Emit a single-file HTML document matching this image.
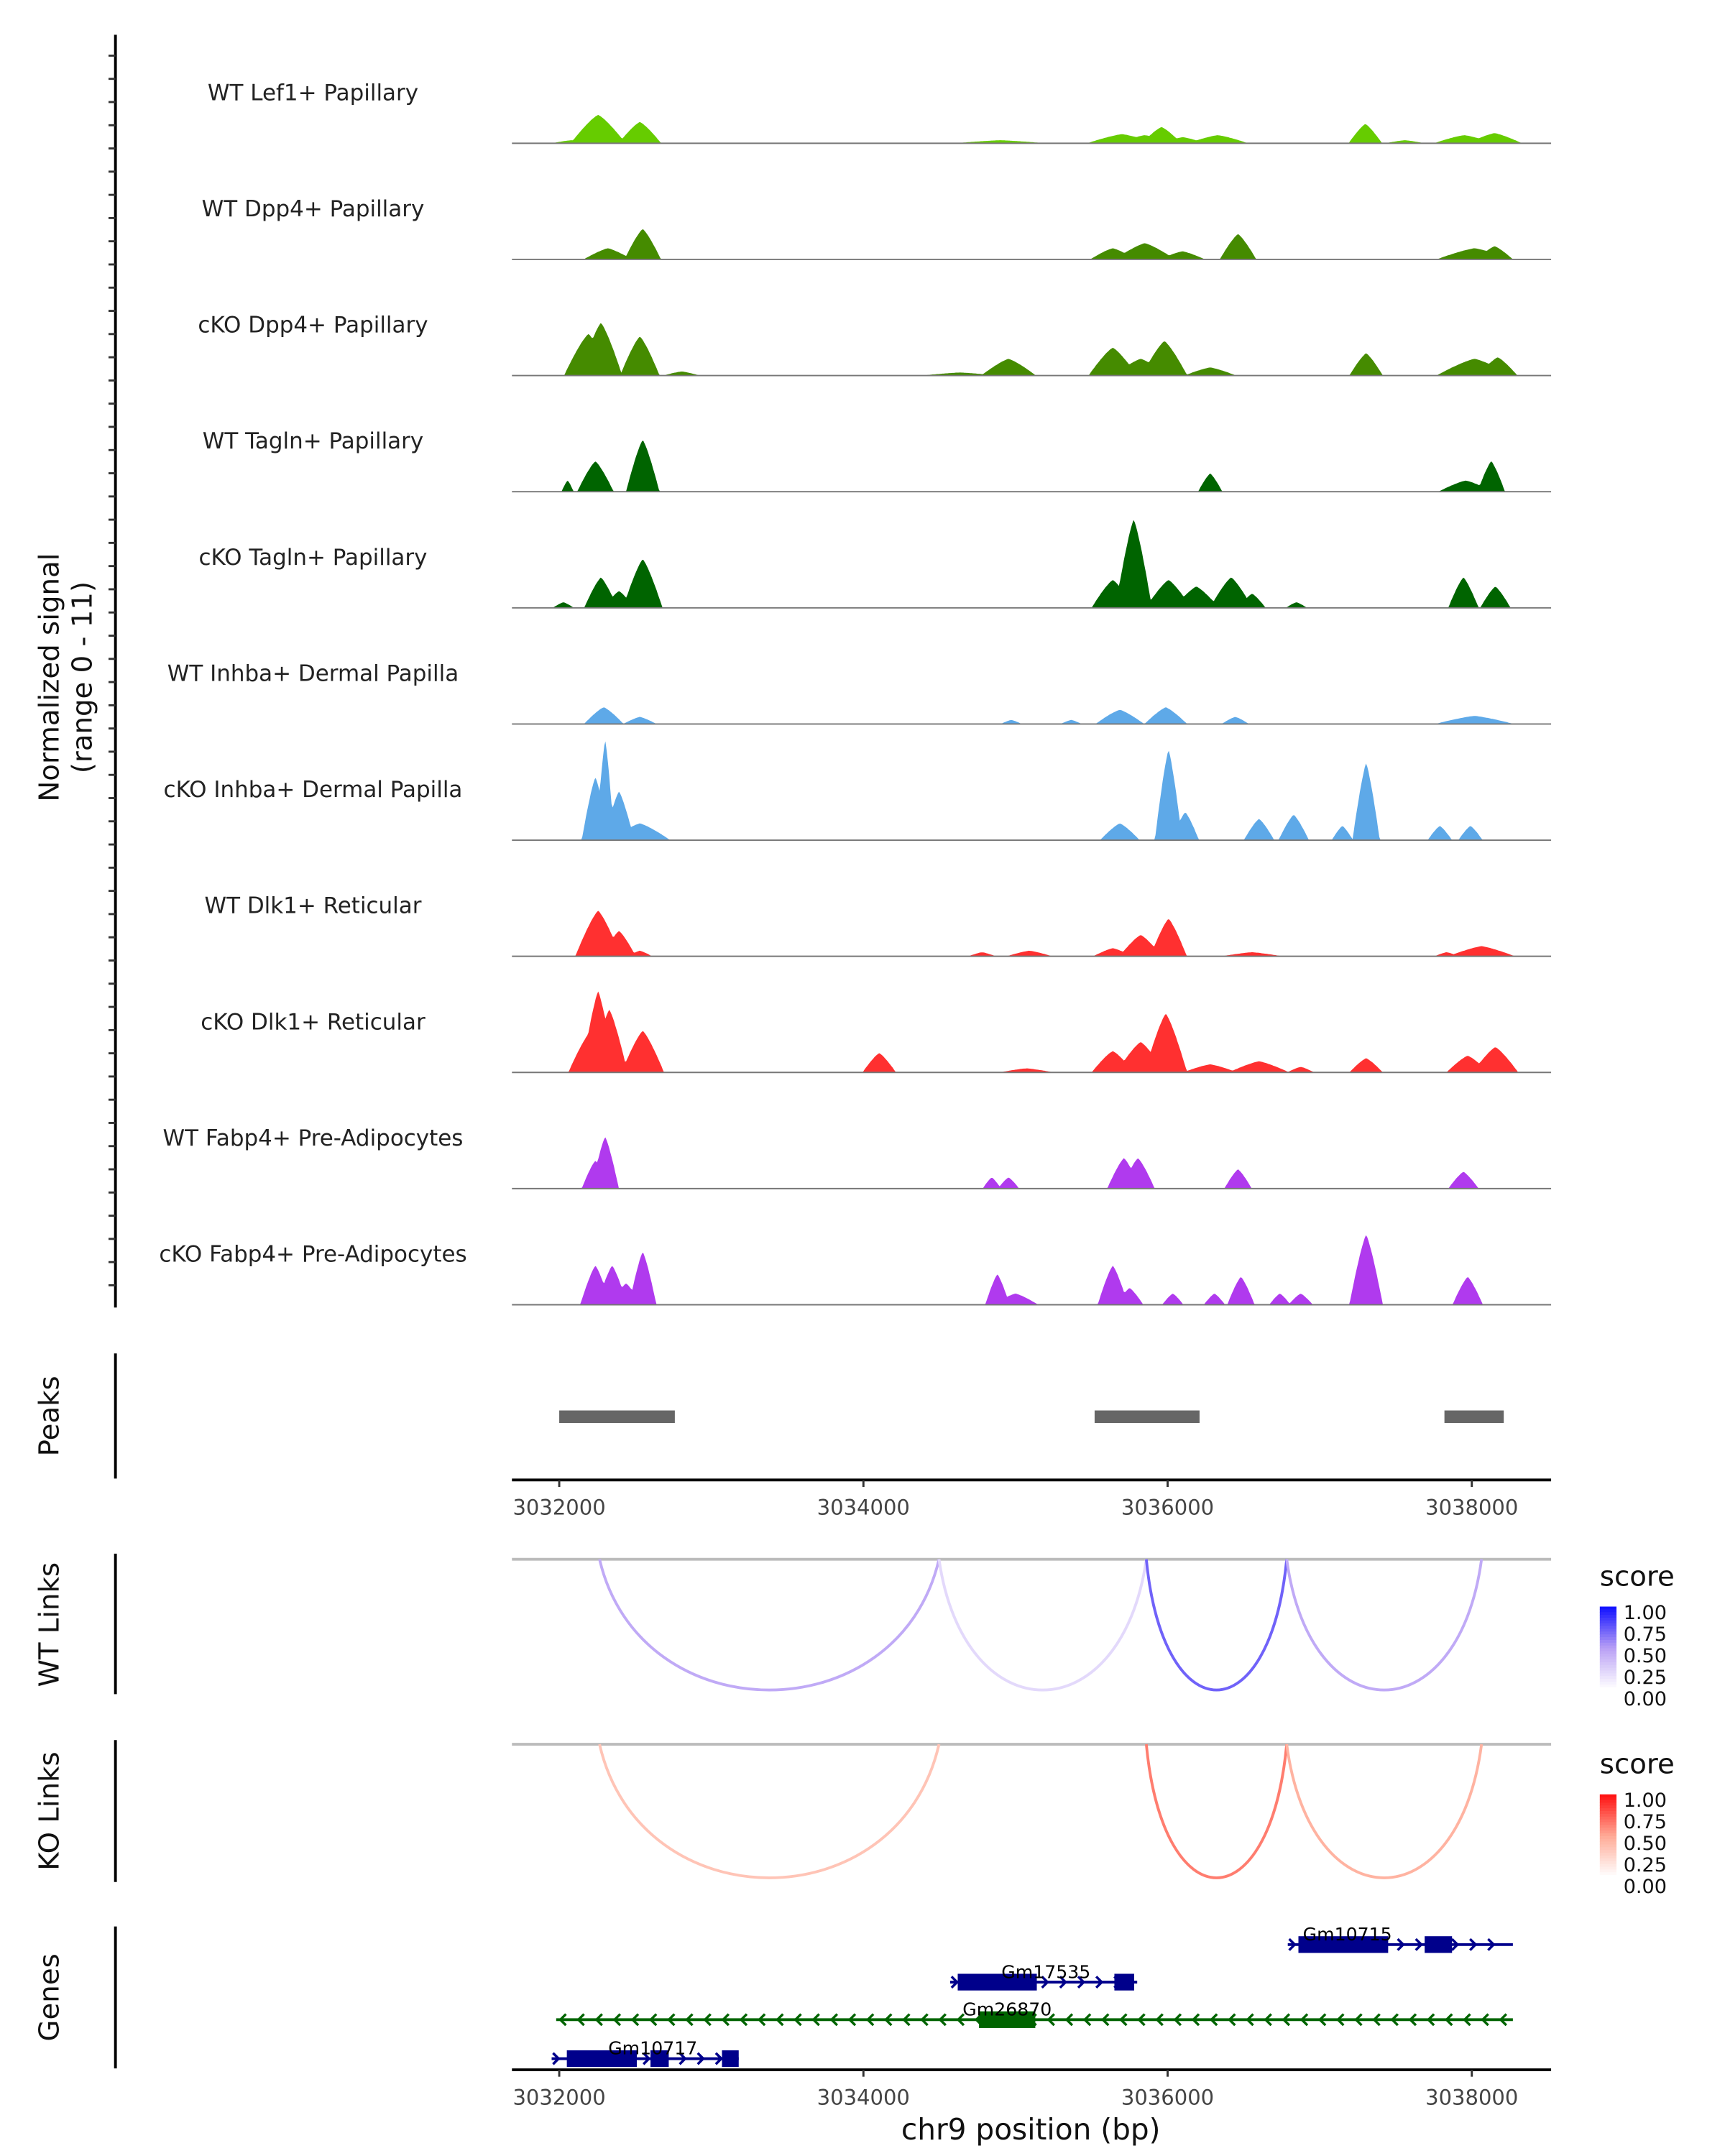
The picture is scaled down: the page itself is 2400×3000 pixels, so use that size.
<!DOCTYPE html>
<html><head><meta charset="utf-8"><style>
html,body{margin:0;padding:0;background:#fff}
svg{display:block;font-family:"DejaVu Sans","Liberation Sans",sans-serif}
</style></head><body>
<svg id="chart" width="2400" height="3000" viewBox="0 0 1240 1550" xmlns="http://www.w3.org/2000/svg">
<rect width="1240" height="1550" fill="#fff"/>
<g id="tracks"></g>
<g id="axes"></g>
<text transform="translate(42,487) rotate(-90)" text-anchor="middle" font-size="20" fill="#111">Normalized signal</text>
<text transform="translate(66,487) rotate(-90)" text-anchor="middle" font-size="20" fill="#111">(range 0 - 11)</text>
<text transform="translate(42,1018) rotate(-90)" text-anchor="middle" font-size="20" fill="#111">Peaks</text>
<text transform="translate(42,1168) rotate(-90)" text-anchor="middle" font-size="20" fill="#111">WT Links</text>
<text transform="translate(42,1302) rotate(-90)" text-anchor="middle" font-size="20" fill="#111">KO Links</text>
<text transform="translate(42,1436) rotate(-90)" text-anchor="middle" font-size="20" fill="#111">Genes</text>
<text x="741" y="1538" text-anchor="middle" font-size="21" fill="#111">chr9 position (bp)</text>
</svg>
<script>
const NS='http://www.w3.org/2000/svg';
const trackNames=["WT Lef1+ Papillary","WT Dpp4+ Papillary","cKO Dpp4+ Papillary","WT Tagln+ Papillary","cKO Tagln+ Papillary","WT Inhba+ Dermal Papilla","cKO Inhba+ Dermal Papilla","WT Dlk1+ Reticular","cKO Dlk1+ Reticular","WT Fabp4+ Pre-Adipocytes","cKO Fabp4+ Pre-Adipocytes"];
const trackColors=["#66cc00","#458b00","#458b00","#006400","#006400","#5ea9e8","#5ea9e8","#ff3030","#ff3030","#b03aee","#b03aee"];
// peaks: [center bp, half-width bp, height (0-11 units)]
const sigLef1WT=[[3032256,180,2.8],[3032530,140,2.1],[3032080,130,0.3],[3034900,300,0.3],[3035700,230,0.9],[3035850,180,0.8],[3035960,130,1.6],[3036100,150,0.6],[3036330,200,0.8],[3037300,110,1.9],[3037560,130,0.3],[3037950,200,0.8],[3038150,180,1.0]];
const sigDpp4WT=[[3032320,160,1.1],[3032549,120,3.0],[3035640,150,1.1],[3035850,200,1.6],[3036097,150,0.8],[3036463,120,2.5],[3038018,250,1.1],[3038150,120,1.3]];
const sigDpp4KO=[[3032274,140,5.2],[3032192,160,4.1],[3032530,130,3.85],[3032805,120,0.4],[3034634,250,0.3],[3034954,180,1.65],[3035640,160,2.75],[3035823,180,1.65],[3035979,150,3.4],[3036280,170,0.8],[3037305,110,2.2],[3038018,250,1.65],[3038170,130,1.8]];
const sigTaglnWT=[[3032055,40,1.1],[3032238,120,3.0],[3032549,110,5.1],[3036280,80,1.8],[3038128,90,3.0],[3037960,180,1.1]];
const sigTaglnKO=[[3032027,70,0.55],[3032274,110,3.0],[3032393,100,1.65],[3032549,130,4.8],[3035777,120,8.7],[3035640,140,2.75],[3036006,150,2.75],[3036189,150,2.1],[3036418,140,3.0],[3036555,90,1.4],[3036847,70,0.55],[3037945,100,3.0],[3038155,100,2.1]];
const sigInhbaWT=[[3032293,130,1.65],[3032530,110,0.7],[3034972,70,0.4],[3035366,70,0.4],[3035686,160,1.4],[3035988,140,1.65],[3036445,90,0.7],[3038018,260,0.8]];
const sigInhbaKO=[[3032302,60,9.9],[3032238,90,6.2],[3032393,100,4.8],[3032530,200,1.65],[3035686,130,1.65],[3036006,90,8.9],[3036116,90,2.75],[3036601,100,2.1],[3036829,100,2.5],[3037149,70,1.4],[3037305,90,7.6],[3037790,80,1.4],[3037991,80,1.4]];
const sigDlk1WT=[[3032256,150,4.5],[3032393,110,2.5],[3032530,80,0.55],[3034780,90,0.4],[3035091,150,0.55],[3035640,130,0.8],[3035823,140,2.1],[3036006,120,3.7],[3036555,200,0.4],[3037835,80,0.4],[3038064,220,1.0]];
const sigDlk1KO=[[3032256,110,8.0],[3032329,120,6.2],[3032549,140,4.1],[3032210,150,4.1],[3034104,110,1.9],[3035073,180,0.4],[3035640,140,2.1],[3035823,160,3.0],[3035988,140,5.8],[3036280,180,0.8],[3036601,200,1.1],[3036875,90,0.55],[3037305,110,1.4],[3037973,140,1.65],[3038155,150,2.5]];
const sigFabp4WT=[[3032302,90,5.1],[3032238,90,2.75],[3034844,60,1.1],[3034954,70,1.1],[3035713,110,3.0],[3035805,110,3.0],[3036463,90,1.9],[3037945,100,1.65]];
const sigFabp4KO=[[3032238,100,3.85],[3032348,100,3.85],[3032549,90,5.2],[3032439,100,2.1],[3034881,80,3.0],[3035000,150,1.1],[3035640,100,3.85],[3035750,90,1.65],[3036034,70,1.1],[3036308,70,1.1],[3036482,90,2.75],[3036738,70,1.1],[3036875,80,1.1],[3037305,110,6.9],[3037973,100,2.75]];
const signals=[sigLef1WT,sigDpp4WT,sigDpp4KO,sigTaglnWT,sigTaglnKO,sigInhbaWT,sigInhbaKO,sigDlk1WT,sigDlk1KO,sigFabp4WT,sigFabp4KO];
const xTicks=[3032000,3034000,3036000,3038000];
const peakRegions=[[3032000,3032760],[3035520,3036210],[3037820,3038210]];
const wtLinks=[[3032265,3034497,0.45],[3034497,3035860,0.2],[3035860,3036783,0.72],[3036783,3038064,0.45]];
const koLinks=[[3032265,3034497,0.35],[3035860,3036783,0.65],[3036783,3038064,0.45]];
const legendTicks=["1.00","0.75","0.50","0.25","0.00"];
const geneNames=["Gm10715","Gm17535","Gm26870","Gm10717"];
const geneSpans=[[3036790,3038270],[3034570,3035800],[3031980,3038270],[3031950,3033180]];
const geneStrands=[1,1,-1,1];
const geneExons=[[[3036860,3037450],[3037690,3037870]],[[3034620,3035140],[3035650,3035780]],[[3034760,3035130]],[[3032050,3032510],[3032600,3032720],[3033070,3033180]]];

const svg=document.getElementById('chart');
const X=bp=>402+(bp-3032000)*0.109333;
const unitPx=80/11;
function el(tag,attrs,parent){const e=document.createElementNS(NS,tag);for(const k in attrs)e.setAttribute(k,attrs[k]);(parent||svg).appendChild(e);return e;}

const tracksG=document.getElementById('tracks');
signals.forEach((peaks,i)=>{
  const base=103+i*83.5;
  const g=el('g',{},tracksG);
  
  
  let pts=[];
  for(let bp=3031800;bp<=3038450;bp+=8){
    let v=0;
    for(const p of peaks){const d=Math.abs(bp-p[0])/p[1];if(d<1){const s=p[2]*(1-Math.pow(d,1.25));if(s>v)v=s;}}
    pts.push(X(bp).toFixed(1)+','+(base-v*unitPx).toFixed(1));
  }
  const poly=el('polygon',{points:X(3031800)+','+base+' '+pts.join(' ')+' '+X(3038450)+','+base,fill:trackColors[i]},g);
  
  
  const ln=el('line',{x1:368,x2:1115,y1:base,y2:base,stroke:'#777','stroke-width':1},g);
  
  
  const t=el('text',{x:225,y:base-31,'text-anchor':'middle','font-size':16,fill:'#222'},g);
  
  
  t.textContent=trackNames[i];
});

const ax=document.getElementById('axes');
function vline(x,y1,y2,name){const l=el('line',{x1:x,x2:x,y1:y1,y2:y2,stroke:'#000','stroke-width':2},ax);}
vline(83,25,940,'signal-y-axis');
for(let y=40;y<=940;y+=16.68){const t=el('line',{x1:78,x2:83,y1:y,y2:y,stroke:'#333','stroke-width':1.5},ax);}
vline(83,973,1063,'peaks-axis');
vline(83,1117,1218,'wt-links-axis');
vline(83,1251,1353,'ko-links-axis');
vline(83,1385,1487,'genes-axis');

peakRegions.forEach(p=>{const r=el('rect',{x:X(p[0]),y:1014,width:X(p[1])-X(p[0]),height:9,fill:'#666'},ax);});

function xAxis(y,name){
  const l=el('line',{x1:368,x2:1115,y1:y,y2:y,stroke:'#000','stroke-width':2},ax);
  
  
  xTicks.forEach(v=>{
    el('line',{x1:X(v),x2:X(v),y1:y,y2:y+5,stroke:'#333','stroke-width':1.5},ax);
    const t=el('text',{x:X(v),y:y+25,'text-anchor':'middle','font-size':15,fill:'#444'},ax);
    
    
    t.textContent=v;
  });
}
xAxis(1064,'peaks-x-axis');
xAxis(1488,'genes-x-axis');

function mix(c1,c2,t){return 'rgb('+c1.map((v,i)=>Math.round(v+(c2[i]-v)*t)).join(',')+')';}
function scoreColor(s,mid,hi){if(s<0.5)return mix([255,255,255],mid,s/0.5);return mix(mid,hi,(s-0.5)/0.5);}
function links(data,base,depth,mid,hi,name){
  const b=el('line',{x1:368,x2:1115,y1:base,y2:base,stroke:'#bbb','stroke-width':2},ax);
  
  
  data.forEach(d=>{
    const x1=X(d[0]),x2=X(d[1]),c=base+depth*4/3;
    const p=el('path',{d:`M${x1},${base} C${x1+(x2-x1)*0.12},${c} ${x2-(x2-x1)*0.12},${c} ${x2},${base}`,fill:'none',stroke:scoreColor(d[2],mid,hi),'stroke-width':2},ax);
    
    
  });
}
const blueMid=[185,160,245],blueHi=[20,20,255],redMid=[255,170,150],redHi=[255,20,20];
links(wtLinks,1121,94,blueMid,blueHi,'wt-link');
links(koLinks,1254,96,redMid,redHi,'ko-link');

function legend(y0,mid,hi,name){
  const g=el('g',{},ax);
  
  
  const t=el('text',{x:1150,y:y0,'font-size':20,fill:'#111'},g);t.textContent='score';
  for(let i=0;i<30;i++){const s=1-i/29;el('rect',{x:1150,y:y0+15+i*2,width:12,height:2.2,fill:scoreColor(s,mid,hi)},g);}
  legendTicks.forEach((lb,i)=>{const tt=el('text',{x:1167,y:y0+24+i*15.5,'font-size':14,fill:'#111'},g);tt.textContent=lb;});
}
legend(1140,blueMid,blueHi,'wt-score-legend');
legend(1275,redMid,redHi,'ko-score-legend');

const geneY=[1398,1425,1452,1480];
geneNames.forEach((n,i)=>{
  const g=el('g',{},ax);
  
  
  const col=geneStrands[i]<0?'#006400':'#00008b';
  const y=geneY[i],x1=X(geneSpans[i][0]),x2=X(geneSpans[i][1]);
  el('line',{x1:x1,x2:x2,y1:y,y2:y,stroke:col,'stroke-width':2},g);
  for(let x=x1+4;x<x2-2;x+=13){
    const d=geneStrands[i]>0?`M${x-3},${y-4} L${x+1},${y} L${x-3},${y+4}`:`M${x+3},${y-4} L${x-1},${y} L${x+3},${y+4}`;
    el('path',{d:d,fill:'none',stroke:col,'stroke-width':1.8},g);
  }
  geneExons[i].forEach(e=>{el('rect',{x:X(e[0]),y:y-6,width:X(e[1])-X(e[0]),height:12,fill:col},g);});
  const t=el('text',{x:(X(geneExons[i][0][0])+X(geneExons[i][geneExons[i].length-1][1]))/2+(i==0?-20:0),y:y-3,'text-anchor':'middle','font-size':13,fill:'#000'},g);
  t.textContent=n;
});
</script>
</body></html>
